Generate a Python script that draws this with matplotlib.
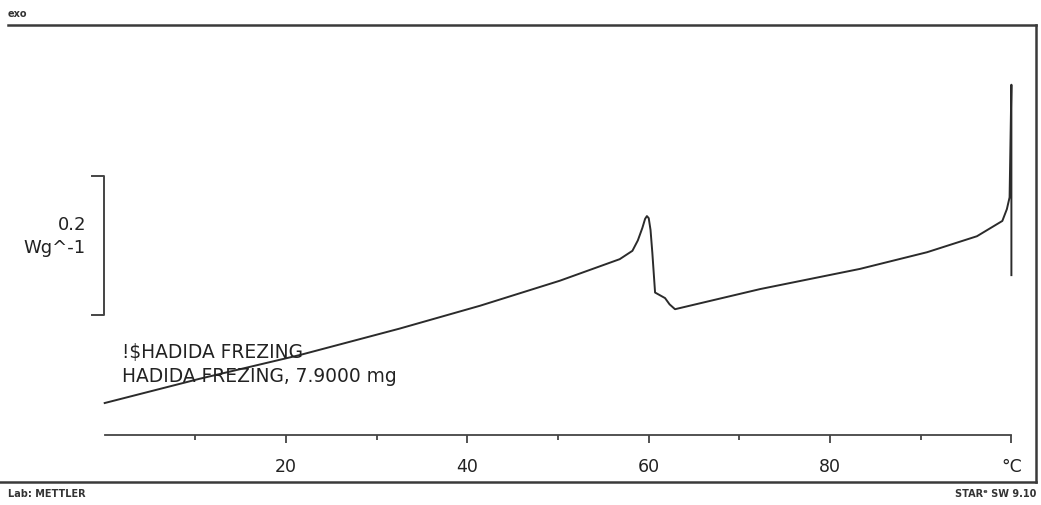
import matplotlib
matplotlib.use("Agg")
from matplotlib import pyplot as plt
from matplotlib.lines import Line2D
from matplotlib.ticker import FixedLocator

# DSC curve: temperature (°C) and heat flow (W/g, exo up)
temp = [0.0, 10.5, 21.5, 32.5, 41.4, 50.2, 56.8, 58.2, 58.8, 59.3, 59.6, 59.8,
        60.0, 60.2, 60.4, 60.7, 61.8, 62.3, 62.9, 72.3, 83.3, 90.7, 96.2, 99.0,
        99.5, 99.8, 100.0, 100.0]
heat_flow = [0.046, 0.081, 0.115, 0.153, 0.186, 0.222, 0.253, 0.265, 0.280,
             0.298, 0.311, 0.315, 0.312, 0.295, 0.262, 0.205, 0.197, 0.188,
             0.181, 0.210, 0.239, 0.263, 0.286, 0.308, 0.325, 0.342, 0.504,
             0.230]

major_ticks = [20, 40, 60, 80, 100]
major_labels = ["20", "40", "60", "80", "°C"]
minor_ticks = [10, 30, 50, 70, 90]

scale_bar = (0.173, 0.373)   # 0.2 W/g
sample_lines = ["!$HADIDA FREZING", "HADIDA FREZING, 7.9000 mg"]

W, H = 1041, 506
fig = plt.figure(figsize=(W / 100, H / 100), dpi=100)
fig.patch.set_facecolor("white")

# axes: x 0..100 spans px 105..1012, y 0 at px 436, top at px 26
ax = fig.add_axes([104.7 / W, (H - 436) / H, (1011.4 - 104.7) / W, 410 / H])
ax.set_xlim(0, 100)
ax.set_ylim(0, 410 * 0.2 / 139)

ax.plot(temp, heat_flow, color="#2b2b2b", lw=1.4, clip_on=False,
        solid_joinstyle="round")

for s in ["top", "right", "left"]:
    ax.spines[s].set_visible(False)
ax.spines["bottom"].set_color("#444444")
ax.spines["bottom"].set_linewidth(1.3)
ax.set_yticks([])
ax.xaxis.set_major_locator(FixedLocator(major_ticks))
ax.xaxis.set_minor_locator(FixedLocator(minor_ticks))
ax.set_xticklabels(major_labels)
ax.tick_params(axis="x", which="major", direction="out", length=6, width=1.3,
               color="#444444", pad=10, labelsize=12.5, labelcolor="#222222")
ax.tick_params(axis="x", which="minor", direction="out", length=3.5, width=1.3,
               color="#444444")

# scale bar
x_bar, x_serif = -0.1, -1.4
ax.plot([x_serif, x_bar, x_bar, x_serif],
        [scale_bar[1], scale_bar[1], scale_bar[0], scale_bar[0]],
        color="#444444", lw=1.4, clip_on=False)
fig.text(86 / W, 1 - 225 / H, "0.2", ha="right", va="center", fontsize=13,
         color="#222222")
fig.text(86 / W, 1 - 248 / H, "Wg^-1", ha="right", va="center", fontsize=13,
         color="#222222")

fig.text(122 / W, 1 - 353 / H, sample_lines[0], ha="left", va="center",
         fontsize=13.4, color="#222222")
fig.text(122 / W, 1 - 377 / H, sample_lines[1], ha="left", va="center",
         fontsize=13.4, color="#222222")

# outer frame
frame = dict(color="#3a3a3a", lw=1.8)
fig.add_artist(Line2D([8 / W, 1036 / W], [1 - 26 / H, 1 - 26 / H], **frame))
fig.add_artist(Line2D([1036 / W, 1036 / W], [1 - 26 / H, 1 - 483 / H], **frame))
fig.add_artist(Line2D([0, 1036 / W], [1 - 483 / H, 1 - 483 / H], **frame))

small = dict(fontsize=7, fontweight="bold", color="#333333", va="center")
fig.text(8 / W, 1 - 14 / H, "exo", ha="left", **small)
fig.text(8 / W, 1 - 494 / H, "Lab: METTLER", ha="left", **small)
fig.text(1036 / W, 1 - 494 / H, "STARᵉ SW 9.10", ha="right", **small)

fig.savefig("out.png", dpi=100, facecolor="white")
